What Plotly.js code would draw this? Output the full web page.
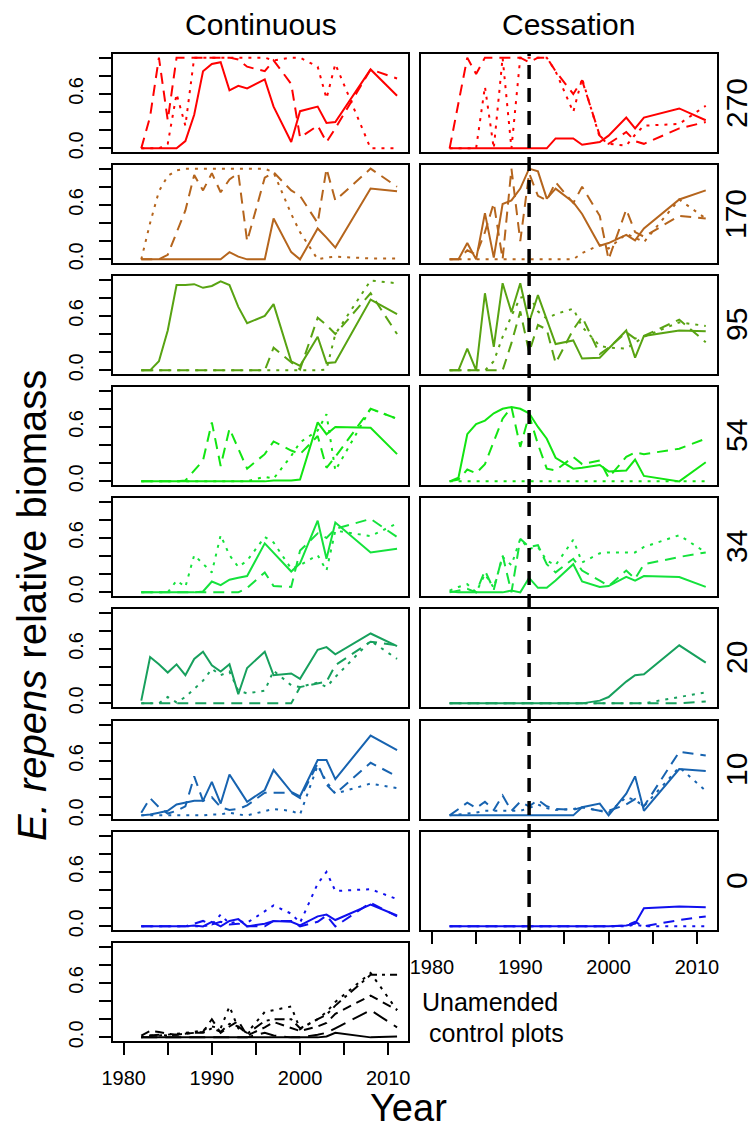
<!DOCTYPE html>
<html>
<head>
<meta charset="utf-8">
<script src="https://cdn.plot.ly/plotly-3.0.1.min.js"></script>
<style>html,body{margin:0;padding:0;background:#fff;} #chart{width:755px;height:1128px;}</style>
</head>
<body>
<div id="chart"></div>
<script>
// ---------------- DATA ----------------
const YEARS = [1982,1983,1984,1985,1986,1987,1988,1989,1990,1991,1992,1993,1994,1996,1997,1999,2000,2002,2003,2004,2008,2011];
const TICK_YEARS = [1980,1985,1990,1995,2000,2005,2010];
const TICK_YEAR_TEXT = ['1980','','1990','','2000','','2010'];
const Y_TICKS = [0,0.2,0.4,0.6,0.8,1.0];
const Y_TICK_TEXT = ['0.0','','','0.6','',''];
const PANEL_LABELS = ['270','170','95','54','34','20','10','0'];
const COL_TITLES = ['Continuous','Cessation'];
const CESSATION_YEAR = 1991;

// Continuous (left column)
const cont270_solid  = [0,0,0,0,0,0.08,0.37,0.85,0.93,0.95,0.64,0.69,0.66,0.76,0.46,0.07,0.41,0.46,0.28,0.29,0.87,0.58];
const cont270_dashed = [0,0.35,1.0,0.31,1.0,1.0,1.0,1.0,1.0,1.0,1.0,0.98,0.9,0.85,0.97,0.71,0.12,0.25,0.07,0.22,0.87,0.77];
const cont270_dotted = [0,0,0,0.05,0.6,0.25,1.0,1.0,1.0,1.0,1.0,1.0,1.0,1.0,0.97,1.0,1.0,0.9,0.55,0.93,0,0];

const cont170_solid  = [0,0,0,0,0,0,0,0,0,0,0.08,0.03,0,0,0.45,0.08,0,0.34,0.24,0.13,0.78,0.75];
const cont170_dashed = [0,0,0,0.05,0.3,0.54,0.93,0.76,0.95,0.74,0.88,0.95,0.2,0.9,0.96,0.76,0.7,0.4,1.0,0.65,1.0,0.8];
const cont170_dotted = [0,0.4,0.75,0.92,0.98,1,1,1,1,1,1,1,1,1,0.96,0.5,0.3,0.0,0.02,0.03,0.01,0.01];

const cont95_solid  = [0,0,0.1,0.44,0.94,0.94,0.95,0.91,0.93,0.98,0.94,0.7,0.52,0.6,0.73,0.1,0.05,0.37,0.08,0.09,0.78,0.62];
const cont95_dashed = [0,0,0,0,0,0,0,0,0,0,0,0,0,0,0.25,0.09,0.01,0.58,0.5,0.4,0.85,0.4];
const cont95_dotted = [0,0,0,0,0,0,0,0,0,0,0,0,0,0,0,0,0,0,0.01,0.4,0.99,0.96];

const cont54_solid  = [0,0,0,0,0,0,0,0,0,0,0,0,0,0,0.01,0.01,0.02,0.65,0.52,0.6,0.59,0.3];
const cont54_dashed = [0,0,0,0,0,0.01,0.12,0.23,0.65,0.17,0.58,0.35,0.14,0.3,0.44,0.34,0.3,0.5,0.15,0.27,0.8,0.69];
const cont54_dotted = [0,0,0,0,0,0,0,0,0,0,0,0,0,0.05,0.03,0.28,0.43,0.56,0.74,0.12,0.8,0.69];

const cont34_solid  = [0,0,0,0,0,0,0,0.01,0.12,0.08,0.14,0.16,0.18,0.54,0.44,0.23,0.32,0.79,0.37,0.77,0.44,0.48];
const cont34_dashed = [0,0,0,0,0,0,0,0,0,0,0,0,0.05,0.22,0.07,0.06,0.46,0.65,0.6,0.7,0.81,0.61];
const cont34_dotted = [0,0,0,0,0.13,0.06,0.41,0.31,0.22,0.63,0.41,0.28,0.35,0.61,0.55,0.26,0.3,0.41,0.24,0.68,0.62,0.76];

const cont20_solid  = [0.03,0.51,0.43,0.34,0.43,0.31,0.49,0.57,0.42,0.35,0.43,0.1,0.39,0.57,0.31,0.33,0.27,0.59,0.62,0.54,0.77,0.63];
const cont20_dashed = [0,0,0,0,0,0,0,0,0,0,0,0,0,0,0,0,0.18,0.22,0.24,0.42,0.68,0.64];
const cont20_dotted = [0,0,0,0.07,0.01,0.07,0.16,0.25,0.38,0.31,0.35,0.14,0.11,0.14,0.36,0.2,0.18,0.23,0.18,0.29,0.69,0.49];

const cont10_solid  = [0,0.01,0.03,0.05,0.12,0.14,0.16,0.16,0.37,0.13,0.45,0.3,0.15,0.28,0.5,0.26,0.21,0.61,0.61,0.4,0.88,0.72];
const cont10_dashed = [0.03,0.19,0.09,0.02,0.05,0.1,0.43,0.16,0.2,0.09,0.06,0.07,0.11,0.25,0.25,0.25,0.19,0.57,0.34,0.24,0.58,0.43];
const cont10_dotted = [0,0,0,0,0,0,0,0,0.01,0.01,0.03,0.01,0,0.05,0.07,0.05,0.01,0.55,0.37,0.24,0.35,0.3];

const cont0_solid  = [0,0,0,0,0,0,0.01,0,0.05,0,0.06,0.08,0,0.03,0.06,0.05,0.01,0.11,0.13,0.07,0.24,0.12];
const cont0_dashed = [0,0,0,0,0,0,0.03,0.06,0.02,0.05,0.02,0.03,0,0,0.06,0.06,0,0.05,0.12,0,0.26,0.11];
const cont0_dotted = [0,0,0,0,0,0,0,0,0.02,0.13,0.03,0.06,0.04,0.17,0.23,0.14,0.04,0.47,0.6,0.39,0.41,0.3];

// Unamended control plots
const ctrl_a = [0,0,0,0,0,0,0,0,0,0,0,0,0,0,0,0,0,0,0.01,0.05,0,0.01];
const ctrl_b = [0,0,0,0,0,0,0,0,0,0,0,0,0,0.05,0.02,0,0,0.03,0.05,0.1,0.3,0.11];
const ctrl_c = [0.02,0.07,0.06,0.04,0.03,0.04,0.05,0.06,0.2,0.05,0.12,0.18,0.02,0.11,0.17,0.1,0.07,0.12,0.16,0.26,0.46,0.3];
const ctrl_d = [0,0.02,0.02,0.03,0.04,0.05,0.06,0.08,0.12,0.1,0.34,0.1,0.05,0.28,0.3,0.34,0.09,0.2,0.28,0.39,0.71,0.3];
const ctrl_e = [0,0.02,0.03,0.02,0.03,0.04,0.05,0.05,0.1,0.06,0.15,0.12,0.04,0.18,0.2,0.2,0.1,0.2,0.25,0.35,0.69,0.69];

// Cessation (right column)
const cess270_solid  = [0,0,0,0,0,0,0,0,0,0,0,0,0.11,0.11,0.04,0.07,0.14,0.34,0.22,0.34,0.44,0.31];
const cess270_dashed = [0,0.5,1.0,0.82,1.0,1.0,1.0,1.0,1.0,0.95,1.0,1.0,0.85,0.6,0.75,0.14,0.05,0.18,0.08,0.05,0.22,0.29];
const cess270_dotted = [0,0,0,0,0.68,0,1.0,0,1.0,1.0,1.0,1.0,0.85,0.4,0.77,0.12,0.05,0.03,0.15,0.25,0.27,0.47];

const cess170_solid  = [0,0,0.18,0,0.51,0.02,0.61,0.65,0.78,1.0,0.97,0.67,0.78,0.63,0.5,0.15,0.18,0.27,0.21,0.34,0.66,0.76];
const cess170_dashed = [0,0,0.1,0.05,0.3,0.62,0.0,1.0,0.2,0.95,0.7,0.65,0.85,0.62,0.8,0.48,0.0,0.55,0.3,0.25,0.48,0.45];
const cess170_dotted = [0,0,0,0,0,0,0,0,0,0,0,0,0,0,0.07,0.16,0.12,0.28,0.24,0.19,0.66,0.45];

const cess95_solid  = [0,0,0.24,0,0.85,0.26,0.96,0.64,0.96,0.53,0.83,0.56,0.29,0.33,0.13,0.14,0.24,0.44,0.14,0.38,0.44,0.43];
const cess95_dashed = [0,0,0,0,0,0,0,0.3,0.65,0.2,0.5,0.45,0.08,0.45,0.59,0.18,0.25,0.42,0.35,0.38,0.56,0.31];
const cess95_dotted = [0,0,0,0,0,0.1,0.37,0.6,0.8,0.83,0.65,0.57,0.62,0.68,0.48,0.27,0.25,0.24,0.31,0.37,0.53,0.49];

const cess54_solid  = [0,0.04,0.52,0.63,0.67,0.75,0.8,0.82,0.8,0.75,0.6,0.47,0.26,0.14,0.15,0.18,0.11,0.12,0.24,0.06,0,0.21];
const cess54_dashed = [0,0.02,0.13,0.09,0.19,0.45,0.69,0.82,0.38,0.73,0.41,0.14,0.12,0.27,0.19,0.23,0.04,0.27,0.32,0.3,0.36,0.47];
const cess54_dotted = [0,0,0,0,0,0,0,0,0,0,0,0,0,0,0,0,0,0,0,0,0,0];

const cess34_solid  = [0.01,0,0,0,0,0,0,0.02,0,0.16,0.05,0.05,0.13,0.31,0.12,0.06,0.07,0.17,0.13,0.18,0.17,0.06];
const cess34_dashed = [0,0.02,0.04,0,0.24,0.03,0.41,0,0.59,0.5,0.52,0.31,0.22,0.37,0.24,0.13,0.07,0.24,0.15,0.31,0.39,0.44];
const cess34_dotted = [0.02,0.06,0.09,0,0.2,0.05,0.39,0.3,0.59,0.48,0.5,0.35,0.3,0.58,0.33,0.43,0.44,0.44,0.44,0.5,0.63,0.44];

const cess20_solid  = [0,0,0,0,0,0,0,0,0,0,0,0,0,0,0,0.03,0.07,0.24,0.31,0.32,0.64,0.45];
const cess20_dashed = [0,0,0,0,0,0,0,0,0,0,0,0,0,0,0,0,0,0,0,0,0,0.02];
const cess20_dotted = [0,0,0,0,0,0,0,0,0,0,0,0,0,0,0,0,0,0,0,0,0.07,0.12];

const cess10_solid  = [0,0,0,0,0,0,0,0,0,0,0,0,0,0,0.09,0.13,0,0.24,0.43,0.05,0.51,0.49];
const cess10_dashed = [0,0.07,0.14,0.08,0.15,0.06,0.22,0.05,0.15,0.1,0.17,0.1,0.07,0.06,0.09,0.05,0.05,0.12,0.18,0.1,0.7,0.66];
const cess10_dotted = [0,0.01,0.02,0.03,0.05,0.05,0.05,0.05,0.05,0.08,0.12,0.08,0.06,0.07,0.09,0.05,0.03,0.2,0.17,0.1,0.53,0.27];

const cess0_solid  = [0,0,0,0,0,0,0,0,0,0,0,0,0,0,0,0,0,0.01,0.03,0.2,0.22,0.21];
const cess0_dashed = [0,0,0,0,0,0,0,0,0,0,0,0,0,0,0,0,0,0.01,0.05,0,0.07,0.11];
const cess0_dotted = [0,0,0,0,0,0,0,0,0,0,0,0,0,0,0,0,0,0,0.02,0,0,0];

// ---------------- STYLE ----------------
const COLORS = ['#FF0000','#B5651D','#58A312','#12E512','#14E23C','#17A05D','#1763B0','#1010EE'];
const FONT = 'Liberation Sans, Arial, Helvetica, sans-serif';
const DASH = {solid:'solid', dashed:'11px,7px', dotted:'3px,6px'};
const CTRL_DASH = ['solid','16px,8px','9px,6px','3px,6px','3px,5px,10px,5px'];

const CONT = [
  [cont270_solid,cont270_dashed,cont270_dotted],
  [cont170_solid,cont170_dashed,cont170_dotted],
  [cont95_solid,cont95_dashed,cont95_dotted],
  [cont54_solid,cont54_dashed,cont54_dotted],
  [cont34_solid,cont34_dashed,cont34_dotted],
  [cont20_solid,cont20_dashed,cont20_dotted],
  [cont10_solid,cont10_dashed,cont10_dotted],
  [cont0_solid,cont0_dashed,cont0_dotted]
];
const CESS = [
  [cess270_solid,cess270_dashed,cess270_dotted],
  [cess170_solid,cess170_dashed,cess170_dotted],
  [cess95_solid,cess95_dashed,cess95_dotted],
  [cess54_solid,cess54_dashed,cess54_dotted],
  [cess34_solid,cess34_dashed,cess34_dotted],
  [cess20_solid,cess20_dashed,cess20_dotted],
  [cess10_solid,cess10_dashed,cess10_dotted],
  [cess0_solid,cess0_dashed,cess0_dotted]
];
const CTRL = [ctrl_a,ctrl_b,ctrl_c,ctrl_d,ctrl_e];

// ---------------- LAYOUT GEOMETRY ----------------
const W = 755, H = 1128;
const LX = [112.7, 408], RX = [421, 716.7];
const TOPS = [54,165,276,387,498,609,721,832,943];
const PH = 98;
const px2x = v => v / W;
const py2y = v => 1 - v / H;

const traces = [];
const layout = {
  width: W, height: H,
  margin: {l:0, r:0, t:0, b:0},
  paper_bgcolor: '#fff', plot_bgcolor: '#fff',
  showlegend: false,
  font: {family: FONT, color: '#000'},
  shapes: [], annotations: []
};

function addAxes(k, xd, top, showY, showX) {
  const sfx = k === 1 ? '' : String(k);
  layout['xaxis' + sfx] = {
    domain: [px2x(xd[0]), px2x(xd[1])],
    range: [1978.76, 2012.24],
    anchor: 'y' + sfx,
    showline: true, mirror: true, linecolor: '#000', linewidth: 2,
    showgrid: false, zeroline: false,
    ticks: showX ? 'outside' : '', ticklen: 12, tickwidth: 2, tickcolor: '#000',
    tickmode: 'array', tickvals: TICK_YEARS, ticktext: TICK_YEAR_TEXT,
    showticklabels: showX, tickfont: {size: 20, family: FONT, color: '#000'},
    ticklabelstandoff: 6
  };
  layout['yaxis' + sfx] = {
    domain: [py2y(top + PH), py2y(top)],
    range: [-0.04, 1.04],
    anchor: 'x' + sfx,
    showline: true, mirror: true, linecolor: '#000', linewidth: 2,
    showgrid: false, zeroline: false,
    ticks: showY ? 'outside' : '', ticklen: 12, tickwidth: 2, tickcolor: '#000',
    tickmode: 'array', tickvals: Y_TICKS, ticktext: Y_TICK_TEXT,
    showticklabels: showY, tickangle: -90,
    tickfont: {size: 20, family: FONT, color: '#000'},
    ticklabelstandoff: 8
  };
  return sfx;
}

function addLine(sfx, ys, color, dash) {
  traces.push({
    type: 'scatter', mode: 'lines',
    x: YEARS, y: ys,
    xaxis: 'x' + sfx, yaxis: 'y' + sfx,
    line: {color: color, width: 2, dash: dash},
    hoverinfo: 'skip'
  });
}

// Left column (continuous) panels 1..8 + control panel 9
for (let i = 0; i < 8; i++) {
  const sfx = addAxes(i + 1, LX, TOPS[i], true, false);
  const s = CONT[i];
  addLine(sfx, s[2], COLORS[i], DASH.dotted);
  addLine(sfx, s[1], COLORS[i], DASH.dashed);
  addLine(sfx, s[0], COLORS[i], DASH.solid);
}
{
  const sfx = addAxes(9, LX, TOPS[8], true, true);
  for (let j = CTRL.length - 1; j >= 0; j--) addLine(sfx, CTRL[j], '#000', CTRL_DASH[j]);
}
// Right column (cessation)
let firstRight = null;
for (let i = 0; i < 8; i++) {
  const sfx = addAxes(10 + i, RX, TOPS[i], false, i === 7);
  if (firstRight === null) firstRight = sfx;
  const s = CESS[i];
  addLine(sfx, s[2], COLORS[i], DASH.dotted);
  addLine(sfx, s[1], COLORS[i], DASH.dashed);
  addLine(sfx, s[0], COLORS[i], DASH.solid);
  layout.annotations.push({
    xref: 'paper', yref: 'paper', x: px2x(736), y: py2y(TOPS[i] + PH / 2),
    text: PANEL_LABELS[i], showarrow: false, textangle: -90,
    xanchor: 'center', yanchor: 'middle',
    font: {size: 30, family: FONT, color: '#000'}
  });
}
// cessation year dashed line across right column
layout.shapes.push({
  type: 'line', layer: 'above',
  xref: 'x' + firstRight, yref: 'paper',
  x0: CESSATION_YEAR, x1: CESSATION_YEAR,
  y0: py2y(TOPS[7] + PH), y1: py2y(TOPS[0]),
  line: {color: '#000', width: 3.5, dash: '14px,9px'}
});

// Titles and labels
layout.annotations.push(
  {xref:'paper', yref:'paper', x: px2x(260.5), y: py2y(24), text: COL_TITLES[0], showarrow:false,
   xanchor:'center', yanchor:'middle', font:{size:30, family:FONT, color:'#000'}},
  {xref:'paper', yref:'paper', x: px2x(568.5), y: py2y(24), text: COL_TITLES[1], showarrow:false,
   xanchor:'center', yanchor:'middle', font:{size:30, family:FONT, color:'#000'}},
  {xref:'paper', yref:'paper', x: px2x(32), y: py2y(606), text: '<i>E. repens</i> relative biomass', showarrow:false,
   textangle:-90, xanchor:'center', yanchor:'middle', font:{size:40, family:FONT, color:'#000'}},
  {xref:'paper', yref:'paper', x: px2x(409), y: py2y(1108), text: 'Year', showarrow:false,
   xanchor:'center', yanchor:'middle', font:{size:38, family:FONT, color:'#000'}},
  {xref:'paper', yref:'paper', x: px2x(490), y: py2y(1002), text: 'Unamended', showarrow:false,
   xanchor:'center', yanchor:'middle', font:{size:25, family:FONT, color:'#000'}},
  {xref:'paper', yref:'paper', x: px2x(496.5), y: py2y(1033), text: 'control plots', showarrow:false,
   xanchor:'center', yanchor:'middle', font:{size:25, family:FONT, color:'#000'}}
);

Plotly.newPlot('chart', traces, layout, {staticPlot: true, displayModeBar: false});
</script>
</body>
</html>
